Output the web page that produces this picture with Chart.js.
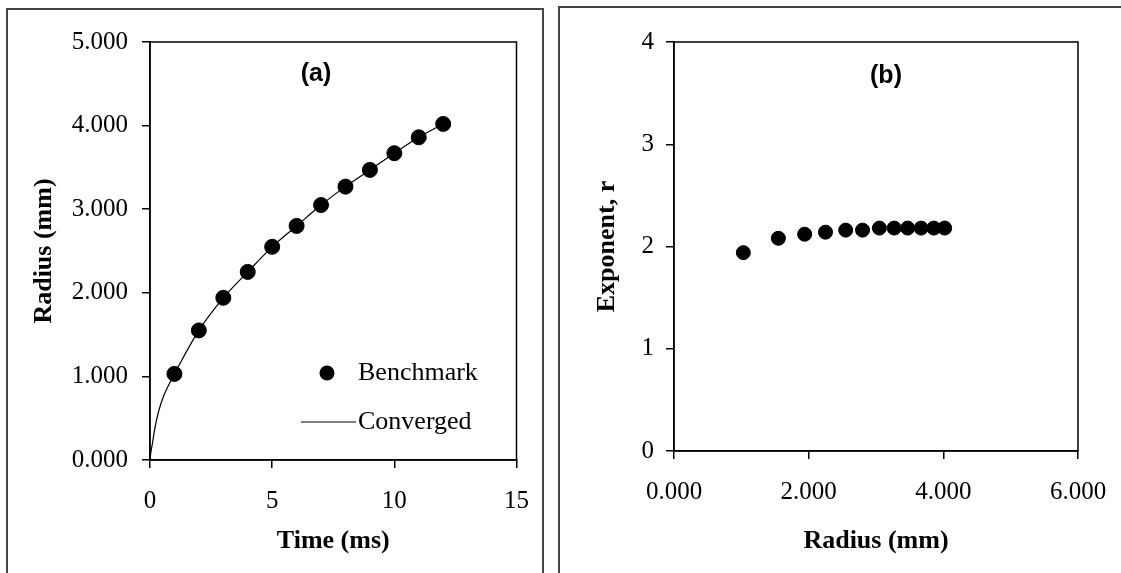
<!DOCTYPE html>
<html>
<head>
<meta charset="utf-8">
<script src="https://cdn.jsdelivr.net/npm/chart.js@4.4.1/dist/chart.umd.min.js"></script>
<style>
  html, body { margin: 0; padding: 0; background: #fff; overflow: hidden; }
  body { width: 1121px; height: 573px; position: relative; }
  .marco { position: absolute; border: 2px solid #444; }
  #marcoA { left: 6px; top: 8px; width: 534px; height: 620px; }
  #marcoB { left: 558px; top: 6px; width: 620px; height: 620px; }
  #graficaA { position: absolute; left: 0; top: 0; }
  #graficaB { position: absolute; left: 550px; top: 0; }
</style>
</head>
<body>
<div class="marco" id="marcoA"></div>
<div class="marco" id="marcoB"></div>
<canvas id="graficaA" width="550" height="573"></canvas>
<canvas id="graficaB" width="571" height="573"></canvas>
<script>
// Datos del benchmark (radio vs tiempo)
var tiempoBench = [1, 2, 3, 4, 5, 6, 7, 8, 9, 10, 11, 12];
var radioBench = [1.03, 1.55, 1.94, 2.25, 2.55, 2.80, 3.05, 3.27, 3.47, 3.67, 3.86, 4.02];

// Curva convergida
var tiempoConv = [0, 0.03, 0.1, 0.2, 0.35, 0.55, 0.77, 1, 2, 3, 4, 5, 6, 7, 8, 9, 10, 11, 12];
var radioConv = [0, 0.08, 0.2, 0.38, 0.58, 0.76, 0.9, 1.03, 1.55, 1.94, 2.25, 2.55, 2.80, 3.05, 3.27, 3.47, 3.67, 3.86, 4.02];

// Exponente r para cada radio
var exponente = [1.94, 2.08, 2.12, 2.14, 2.16, 2.16, 2.18, 2.18, 2.18, 2.18, 2.18, 2.18];

// Marcas de los ejes
var ticksTiempo = [0, 5, 10, 15];
var ticksRadio = [0, 1, 2, 3, 4, 5];
var ticksRadioB = [0, 2, 4, 6];
var ticksExponente = [0, 1, 2, 3, 4];

var serif = "'Liberation Serif', 'Times New Roman', serif";
var sans = "'Liberation Sans', Arial, sans-serif";
Chart.defaults.font.family = serif;
Chart.defaults.color = '#000';

function aPuntos(xs, ys) {
    var data = [];
    for (i = 0; i < xs.length; i++) {
        data.push({ x: xs[i], y: ys[i] });
    }
    return data;
}

// Recuadro del area de trazado
var marcoArea = {
    id: 'marcoArea',
    afterDraw: function (chart) {
        var ca = chart.chartArea;
        var ctx = chart.ctx;
        ctx.save();
        ctx.strokeStyle = '#000';
        ctx.lineWidth = 1.5;
        ctx.strokeRect(ca.left, ca.top, ca.right - ca.left, ca.bottom - ca.top);
        ctx.restore();
    }
};

// Etiqueta (a) / (b) dentro del area
var etiqueta = {
    id: 'etiqueta',
    afterDraw: function (chart, args, opts) {
        var ca = chart.chartArea;
        var ctx = chart.ctx;
        ctx.save();
        ctx.font = 'bold 25px ' + sans;
        ctx.fillStyle = '#000';
        ctx.textAlign = 'center';
        ctx.textBaseline = 'middle';
        ctx.fillText(opts.text, ca.left + opts.dx, ca.top + opts.dy);
        ctx.restore();
    }
};

// Leyenda dentro del area (punto o linea segun la serie)
var leyenda = {
    id: 'leyenda',
    afterDraw: function (chart, args, opts) {
        if (!opts.display) return;
        var ca = chart.chartArea;
        var ctx = chart.ctx;
        ctx.save();
        ctx.font = '26px ' + serif;
        ctx.textBaseline = 'middle';
        ctx.textAlign = 'left';
        chart.data.datasets.forEach(function (ds, k) {
            var y = ca.top + opts.y + k * opts.gap;
            if (ds.showLine) {
                ctx.strokeStyle = ds.borderColor;
                ctx.lineWidth = ds.borderWidth;
                ctx.beginPath();
                ctx.moveTo(ca.left + opts.x - 26, y);
                ctx.lineTo(ca.left + opts.x + 29, y);
                ctx.stroke();
            } else {
                ctx.fillStyle = ds.backgroundColor;
                ctx.beginPath();
                ctx.arc(ca.left + opts.x, y, ds.pointRadius, 0, Math.PI * 2);
                ctx.fill();
            }
            ctx.fillStyle = '#000';
            ctx.fillText(ds.label, ca.left + opts.textX, y);
        });
        ctx.restore();
    }
};

function sinPadding(scale) {
    scale.paddingLeft = 0;
    scale.paddingRight = 0;
    scale.paddingTop = 0;
    scale.paddingBottom = 0;
}

function ejeX(marcas, titulo, alto, decimales, padTick, padTitulo) {
    return {
        type: 'linear',
        position: 'bottom',
        min: marcas[0],
        max: marcas[marcas.length - 1],
        afterBuildTicks: function (scale) {
            scale.ticks = marcas.map(function (v) { return { value: v }; });
        },
        afterFit: function (scale) {
            scale.height = alto;
            sinPadding(scale);
        },
        ticks: {
            font: { size: 25, family: serif },
            color: '#000',
            padding: padTick,
            maxRotation: 0,
            callback: function (v) { return decimales ? v.toFixed(decimales) : String(v); }
        },
        grid: { display: true, drawOnChartArea: false, drawTicks: true, tickLength: 8, color: '#000', lineWidth: 1.5 },
        border: { display: true, color: '#000', width: 1.5 },
        title: {
            display: true,
            text: titulo,
            color: '#000',
            font: { size: 26, weight: 'bold', family: serif },
            padding: { top: 0, bottom: padTitulo }
        }
    };
}

function ejeY(marcas, titulo, ancho, decimales, padTick, padTitulo) {
    return {
        type: 'linear',
        position: 'left',
        min: marcas[0],
        max: marcas[marcas.length - 1],
        afterBuildTicks: function (scale) {
            scale.ticks = marcas.map(function (v) { return { value: v }; });
        },
        afterFit: function (scale) {
            scale.width = ancho;
            sinPadding(scale);
        },
        ticks: {
            font: { size: 25, family: serif },
            color: '#000',
            padding: padTick,
            callback: function (v) { return decimales ? v.toFixed(decimales) : String(v); }
        },
        grid: { display: true, drawOnChartArea: false, drawTicks: true, tickLength: 8, color: '#000', lineWidth: 1.5 },
        border: { display: true, color: '#000', width: 1.5 },
        title: {
            display: true,
            text: titulo,
            color: '#000',
            font: { size: 26, weight: 'bold', family: serif },
            padding: { top: 29, bottom: 0 }
        }
    };
}

// (a) Radio vs tiempo
var graficaA = new Chart(document.getElementById('graficaA'), {
    type: 'scatter',
    data: {
        datasets: [{
            label: 'Benchmark',
            data: aPuntos(tiempoBench, radioBench),
            backgroundColor: '#000',
            borderColor: '#000',
            pointRadius: 7.5,
            pointHoverRadius: 7.5,
            showLine: false,
            order: 1
        }, {
            label: 'Converged',
            data: aPuntos(tiempoConv, radioConv),
            borderColor: '#000',
            borderWidth: 1.2,
            pointRadius: 0,
            showLine: true,
            cubicInterpolationMode: 'monotone',
            order: 2
        }]
    },
    options: {
        responsive: false,
        animation: false,
        layout: { padding: { top: 42, right: 33.5, left: 0, bottom: 0 } },
        scales: {
            x: ejeX(ticksTiempo, 'Time (ms)', 113, 0, 18, 16),
            y: ejeY(ticksRadio, 'Radius (mm)', 150, 3, 14, 29)
        },
        plugins: {
            legend: { display: false },
            tooltip: { enabled: false },
            etiqueta: { text: '(a)', dx: 166, dy: 32 },
            leyenda: { display: true, x: 177, y: 331, gap: 49, textX: 208 }
        }
    },
    plugins: [marcoArea, etiqueta, leyenda]
});

// (b) Exponente vs radio
var ejeYB = ejeY(ticksExponente, 'Exponent, r', 124, 0, 12, 0);
ejeYB.title.padding = { top: 42, bottom: 0 };

var graficaB = new Chart(document.getElementById('graficaB'), {
    type: 'scatter',
    data: {
        datasets: [{
            label: 'Exponent',
            data: aPuntos(radioBench, exponente),
            backgroundColor: '#000',
            borderColor: '#000',
            pointRadius: 7,
            pointHoverRadius: 7,
            showLine: false
        }]
    },
    options: {
        responsive: false,
        animation: false,
        layout: { padding: { top: 42, right: 43, left: 0, bottom: 0 } },
        scales: {
            x: ejeX(ticksRadioB, 'Radius (mm)', 122, 3, 18, 16),
            y: ejeYB
        },
        plugins: {
            legend: { display: false },
            tooltip: { enabled: false },
            etiqueta: { text: '(b)', dx: 212, dy: 34 },
            leyenda: { display: false }
        }
    },
    plugins: [marcoArea, etiqueta, leyenda]
});
</script>
</body>
</html>
